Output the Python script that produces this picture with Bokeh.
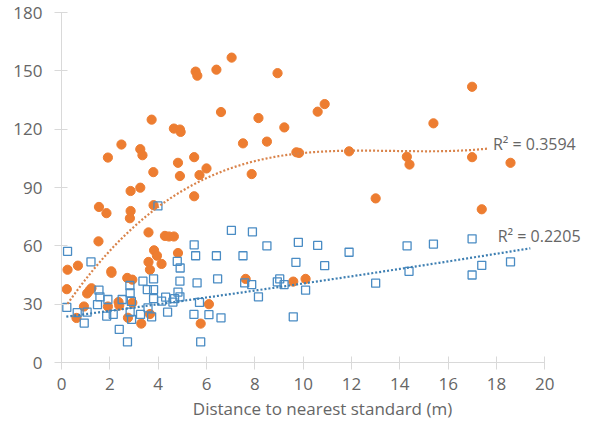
import numpy as np
from bokeh.plotting import figure
from bokeh.models import Range1d, FixedTicker, Label, Title
from bokeh.embed import file_html
from bokeh.resources import INLINE

# Orange series (filled circles)
orange_x = [1.92, 2.48, 3.26, 3.35, 3.73, 3.80, 4.65, 4.90, 4.93, 4.82, 4.90, 5.49, 5.71, 6.00,
            5.55, 5.62, 6.41, 7.04, 6.60, 7.51, 7.87, 8.15, 8.50, 8.94, 9.22, 9.72, 9.83, 10.60,
            10.89, 11.90, 15.39, 14.29, 14.40, 16.99, 16.99, 18.58, 13.00, 17.39, 9.59, 10.10,
            0.25, 0.68, 0.22, 0.62, 0.93, 1.06, 1.16, 1.24, 1.55, 1.86, 1.53, 2.06, 2.07, 1.92,
            2.36, 2.39, 2.75, 2.86, 3.26, 2.86, 2.83, 2.72, 2.93, 2.93, 3.30, 3.81, 3.60, 3.60,
            3.66, 3.83, 3.95, 4.14, 3.66, 4.28, 4.45, 4.65, 4.82, 5.49, 6.10, 5.76, 7.62]
orange_y = [105.4, 112.1, 109.7, 106.6, 124.9, 97.9, 120.3, 119.8, 118.6, 102.7, 95.9, 105.6, 96.4, 99.8,
            149.6, 147.5, 150.6, 156.8, 128.8, 112.7, 96.9, 125.7, 113.6, 148.8, 120.9, 108.1, 107.8, 129.0,
            132.9, 108.6, 123.0, 105.8, 101.8, 141.8, 105.6, 102.7, 84.4, 78.8, 41.6, 43.0,
            47.7, 49.8, 37.7, 22.9, 28.8, 35.5, 37.0, 38.2, 80.0, 76.8, 62.3, 46.9, 46.1, 28.8,
            31.1, 29.3, 23.0, 88.2, 89.9, 77.9, 74.2, 43.5, 42.6, 30.7, 20.0, 80.9, 66.9, 51.7,
            47.7, 57.7, 54.9, 50.7, 24.9, 65.1, 64.8, 64.8, 56.3, 85.5, 30.0, 20.0, 43.0]

# Blue series (open squares)
blue_x = [0.25, 0.22, 0.65, 0.94, 1.22, 1.06, 1.55, 1.59, 1.49, 1.92, 1.87, 2.14, 2.39, 2.51, 2.73,
          2.83, 2.84, 2.89, 2.84, 2.90, 3.27, 3.37, 3.55, 3.81, 3.81, 3.81, 3.58, 3.73, 3.99, 4.14,
          4.31, 4.39, 4.61, 4.68, 4.79, 4.91, 4.90, 4.82, 4.90, 5.49, 5.55, 5.61, 5.71, 5.48, 5.76,
          6.10, 6.41, 6.46, 6.60, 7.03, 7.51, 7.58, 7.90, 7.87, 8.15, 8.50, 8.93, 9.03, 9.21, 9.80,
          9.70, 10.60, 10.89, 10.10, 9.59, 11.90, 13.00, 14.30, 14.38, 15.39, 16.99, 16.99, 17.39, 18.58]
blue_y = [57.2, 28.3, 25.6, 20.3, 51.8, 25.9, 37.2, 33.8, 29.8, 32.4, 23.9, 24.7, 17.0, 32.4, 10.6,
          39.6, 35.8, 31.4, 25.9, 22.2, 24.7, 41.8, 37.5, 43.0, 37.5, 32.8, 28.1, 23.5, 80.5, 31.6,
          33.6, 25.9, 31.1, 32.8, 52.0, 48.6, 41.8, 36.2, 33.8, 60.5, 54.9, 40.9, 30.9, 24.7, 10.6,
          24.6, 54.9, 43.0, 23.0, 67.9, 54.9, 40.9, 67.2, 40.1, 33.8, 60.0, 41.5, 43.0, 40.1, 61.8,
          51.5, 60.2, 49.8, 37.2, 23.5, 56.7, 40.8, 60.0, 46.9, 60.9, 63.6, 45.0, 50.0, 51.8]

# Trendlines (Excel polynomial trendlines)
orange_trend_x = [0.25, 1.13, 2.93, 4.86, 6.52, 8.72, 9.55, 11.9, 14.23, 17.63]
orange_trend_y = [29.0, 46.1, 70.0, 86.1, 97.2, 105.8, 107.5, 108.6, 109.0, 109.9]
blue_trend_x = [0.2, 3.76, 5.96, 10.1, 14.25, 19.4]
blue_trend_y = [24.4, 29.0, 31.6, 42.3, 49.0, 58.3]

r2_orange = "R\u00b2 = 0.3594"
r2_blue = "R\u00b2 = 0.2205"
x_title = "Distance to nearest standard (m)"

x_ticks = list(range(0, 21, 2))
y_ticks = list(range(0, 181, 30))

ORANGE = "#ED7D31"
BLUE = "#4A8CC4"
TEXT = "#666666"
AXIS = "#D9D9D9"
FONT = "Open Sans"

p = figure(width=583, height=427, output_backend="svg", toolbar_location=None,
           x_range=Range1d(0, 21.6), y_range=Range1d(0, 180),
           min_border_left=61, min_border_right=0, min_border_top=12, min_border_bottom=65)
p.outline_line_color = None
p.xgrid.visible = False
p.ygrid.visible = False

p.circle(orange_x, orange_y, radius=4.6, radius_units="screen",
         fill_color=ORANGE, line_color=ORANGE)
p.scatter(blue_x, blue_y, marker="square", size=8, fill_color="white", fill_alpha=0,
          line_color=BLUE, line_width=1.3)

oc = np.polyfit(orange_trend_x, orange_trend_y, 3)
ox = np.linspace(orange_trend_x[0], orange_trend_x[-1], 200)
p.line(ox, np.polyval(oc, ox), line_color="#D9834A", line_width=2.2, line_dash="2 2")

bc = np.polyfit(blue_trend_x, blue_trend_y, 2)
bx = np.linspace(blue_trend_x[0], blue_trend_x[-1], 200)
p.line(bx, np.polyval(bc, bx), line_color="#3E7FB2", line_width=2.2, line_dash="2 2")

p.add_layout(Label(x=17.85, y=112.6, text=r2_orange, text_font=FONT, text_font_size="16px",
                   text_color=TEXT, text_baseline="middle"))
p.add_layout(Label(x=18.05, y=65.1, text=r2_blue, text_font=FONT, text_font_size="16px",
                   text_color=TEXT, text_baseline="middle"))

for ax in (p.xaxis[0], p.yaxis[0]):
    ax.axis_line_color = AXIS
    ax.major_tick_line_color = AXIS
    ax.minor_tick_line_color = None
    ax.major_tick_in = 6
    ax.major_tick_out = 7
    ax.major_label_text_font = FONT
    ax.major_label_text_font_size = "17px"
    ax.major_label_text_color = TEXT

p.xaxis.bounds = (0, 20)
p.xaxis.ticker = FixedTicker(ticks=x_ticks)
p.yaxis.ticker = FixedTicker(ticks=y_ticks)
p.xaxis.major_label_standoff = 8
p.yaxis.major_label_standoff = 12

p.add_layout(Title(text=x_title, align="center", offset=-19, standoff=4,
                   text_font=FONT, text_font_size="17px", text_font_style="normal",
                   text_color=TEXT), "below")

open("out.html", "w").write(file_html(p, INLINE))
